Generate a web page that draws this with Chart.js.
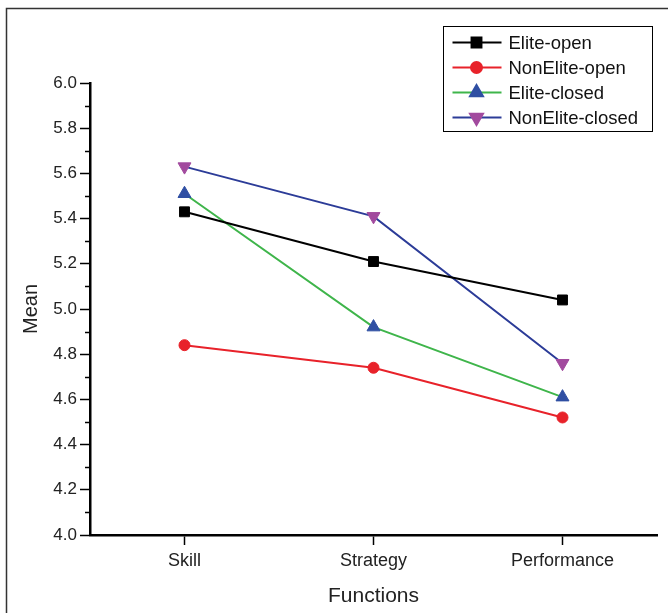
<!DOCTYPE html>
<html>
<head>
<meta charset="utf-8">
<script src="https://cdn.jsdelivr.net/npm/chart.js@4.4.1/dist/chart.umd.min.js"></script>
<style>
  html, body { margin: 0; padding: 0; background: #fff; }
  #wrap { width: 668px; height: 613px; }
</style>
</head>
<body>
<div id="wrap"><canvas id="chart"></canvas></div>
<script>
const functions = ["Skill", "Strategy", "Performance"];
const eliteOpen = [5.43, 5.21, 5.04];
const nonEliteOpen = [4.84, 4.74, 4.52];
const eliteClosed = [5.51, 4.92, 4.61];
const nonEliteClosed = [5.63, 5.41, 4.76];
const meanTicks = [4.0, 4.2, 4.4, 4.6, 4.8, 5.0, 5.2, 5.4, 5.6, 5.8, 6.0];

const fontFamily = "'Liberation Sans', Arial, Helvetica, sans-serif";

// frame round the figure, minor ticks on the y axis, and the legend box
const decorations = {
  id: "decorations",
  beforeDraw(chart) {
    const ctx = chart.ctx;
    ctx.save();
    ctx.strokeStyle = "#333";
    ctx.lineWidth = 1.5;
    ctx.beginPath();
    ctx.moveTo(6.5, chart.height);
    ctx.lineTo(6.5, 8.5);
    ctx.lineTo(chart.width, 8.5);
    ctx.stroke();
    ctx.restore();
  },
  afterDraw(chart) {
    const ctx = chart.ctx;
    const y = chart.scales.y;
    ctx.save();
    ctx.strokeStyle = "#000";
    ctx.lineWidth = 1.5;
    for (let i = 0; i < meanTicks.length - 1; i++) {
      const py = Math.round(y.getPixelForValue((meanTicks[i] + meanTicks[i + 1]) / 2)) + 0.5;
      ctx.beginPath();
      ctx.moveTo(y.right - 5, py);
      ctx.lineTo(y.right, py);
      ctx.stroke();
    }

    // legend
    const box = { left: 443.5, top: 26.5, width: 209, height: 105, row: 25 };
    ctx.lineWidth = 1;
    ctx.strokeStyle = "#000";
    ctx.strokeRect(box.left, box.top, box.width, box.height);
    ctx.font = "18.5px " + fontFamily;
    ctx.textBaseline = "middle";
    chart.data.datasets.forEach((ds, i) => {
      const cy = box.top + 16 + i * box.row;
      ctx.strokeStyle = ds.borderColor;
      ctx.lineWidth = 2;
      ctx.beginPath();
      ctx.moveTo(box.left + 9, cy);
      ctx.lineTo(box.left + 58, cy);
      ctx.stroke();
      ctx.fillStyle = ds.pointBackgroundColor;
      ctx.strokeStyle = ds.pointBorderColor;
      Chart.helpers.drawPoint(ctx, {
        pointStyle: ds.pointStyle,
        rotation: ds.pointRotation || 0,
        radius: ds.pointRadius,
        borderWidth: 1
      }, box.left + 33, cy);
      ctx.fillStyle = "#111";
      ctx.fillText(ds.label, box.left + 65, cy + 1);
    });
    ctx.restore();
  }
};

new Chart(document.getElementById("chart"), {
  type: "line",
  data: {
    labels: functions,
    datasets: [
      {
        label: "Elite-open",
        data: eliteOpen,
        borderColor: "#000000",
        pointBackgroundColor: "#000000",
        pointBorderColor: "#000000",
        pointStyle: "rect",
        pointRadius: 7,
      },
      {
        label: "NonElite-open",
        data: nonEliteOpen,
        borderColor: "#e8222a",
        pointBackgroundColor: "#e8222a",
        pointBorderColor: "#e8222a",
        pointStyle: "circle",
        pointRadius: 5.5,
      },
      {
        label: "Elite-closed",
        data: eliteClosed,
        borderColor: "#3fb54b",
        pointBackgroundColor: "#2f4fa3",
        pointBorderColor: "#2f4fa3",
        pointStyle: "triangle",
        pointRadius: 7.5,
      },
      {
        label: "NonElite-closed",
        data: nonEliteClosed,
        borderColor: "#2c3c98",
        pointBackgroundColor: "#a24a9e",
        pointBorderColor: "#a24a9e",
        pointStyle: "triangle",
        pointRotation: 180,
        pointRadius: 7.5,
      },
    ],
  },
  options: {
    responsive: true,
    maintainAspectRatio: false,
    animation: false,
    datasets: {
      line: {
        borderWidth: 2,
        pointBorderWidth: 1,
        tension: 0,
        fill: false,
      },
    },
    layout: {
      padding: { top: 83, left: 12, right: 11, bottom: 0 },
    },
    scales: {
      x: {
        type: "category",
        offset: true,
        afterFit: (scale) => { scale.height = 78; },
        grid: {
          offset: false,
          drawOnChartArea: false,
          drawTicks: true,
          tickLength: 10,
          tickColor: "#000",
          tickWidth: 1.5,
        },
        border: { display: true, color: "#000", width: 2.5 },
        ticks: {
          color: "#222",
          padding: 5,
          maxRotation: 0,
          font: { family: fontFamily, size: 18 },
        },
        title: {
          display: true,
          text: "Functions",
          color: "#222",
          padding: { top: 0, bottom: 4 },
          font: { family: fontFamily, size: 21 },
        },
      },
      y: {
        min: 4,
        max: 6,
        afterFit: (scale) => { scale.width = 78; },
        afterBuildTicks: (scale) => {
          scale.ticks = meanTicks.map((value) => ({ value }));
        },
        grid: {
          drawOnChartArea: false,
          drawTicks: true,
          tickLength: 10,
          tickColor: "#000",
          tickWidth: 1.5,
        },
        border: { display: true, color: "#000", width: 2.5 },
        ticks: {
          color: "#222",
          padding: 3,
          callback: (value) => Number(value).toFixed(1),
          font: { family: fontFamily, size: 17 },
        },
        title: {
          display: true,
          text: "Mean",
          color: "#222",
          padding: { top: 7, bottom: 0 },
          font: { family: fontFamily, size: 20 },
        },
      },
    },
    plugins: {
      legend: { display: false },
      tooltip: { enabled: false },
    },
  },
  plugins: [decorations],
});
</script>
</body>
</html>
